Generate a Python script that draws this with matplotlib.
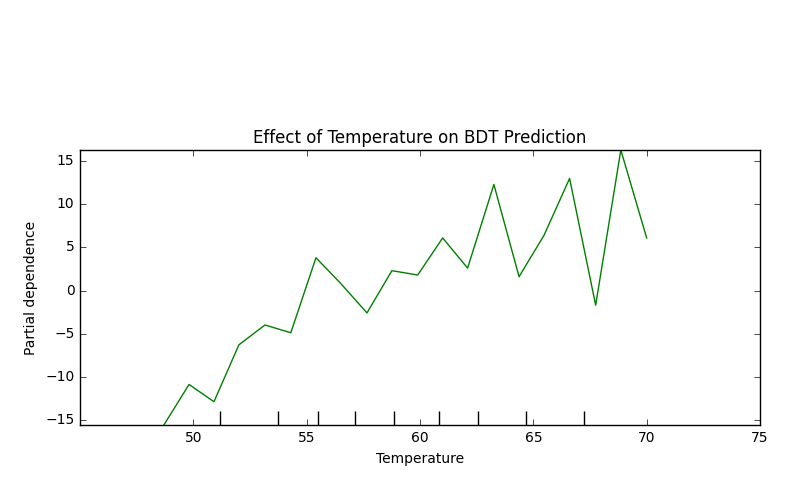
import matplotlib
matplotlib.use("Agg")
import matplotlib.pyplot as plt

plt.style.use("classic")

temperature = [48.7, 49.81, 50.91, 52.01, 53.16, 54.3, 55.41, 56.51, 57.66, 58.76,
               59.9, 61.0, 62.1, 63.26, 64.37, 65.47, 66.6, 67.75, 68.86, 70.0]
partial_dep = [-15.6, -10.9, -12.9, -6.3, -4.0, -4.9, 3.8, 0.8, -2.6, 2.3,
               1.8, 6.1, 2.6, 12.3, 1.6, 6.4, 13.0, -1.7, 16.3, 6.1]
deciles = [51.18, 53.73, 55.5, 57.13, 58.85, 60.84, 62.56, 64.67, 67.23]

fig = plt.figure(figsize=(8, 5), dpi=100, facecolor="white")
ax = fig.add_axes([0.1, 0.15, 0.85, 0.55])
ax.plot(temperature, partial_dep, color="green", lw=1)
ax.vlines(deciles, 0, 0.05, transform=ax.get_xaxis_transform(), color="k", lw=1)
ax.set_xlim(45, 75)
ax.set_ylim(min(partial_dep), max(partial_dep))
ax.set_xticks([50, 55, 60, 65, 70, 75])
ax.set_yticks([-15, -10, -5, 0, 5, 10, 15])
ax.tick_params(labelsize=10)
ax.set_xlabel("Temperature", fontsize=10)
ax.set_ylabel("Partial dependence", fontsize=10)
ax.set_title("Effect of Temperature on BDT Prediction", fontsize=12)
fig.savefig("out.png", dpi=100, facecolor="white")
